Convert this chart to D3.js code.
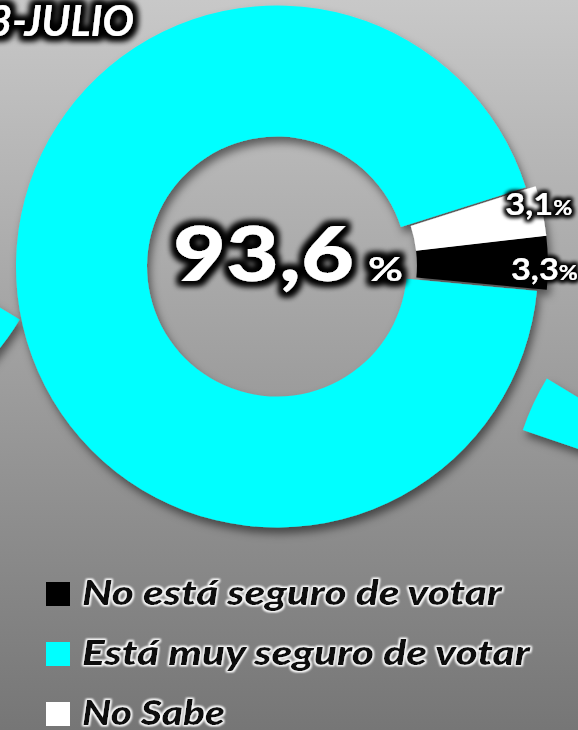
<!DOCTYPE html>
<html>
<head>
<meta charset="utf-8">
<script src="https://cdn.jsdelivr.net/npm/d3@7/dist/d3.min.js"></script>
<style>
  html, body { margin: 0; padding: 0; background: #999; }
  svg { display: block; }
</style>
</head>
<body>
<div id="chart"></div>
<script>
// ---- data ----
const categories = ["No está seguro de votar", "Está muy seguro de votar", "No Sabe"];
const values = [3.3, 93.6, 3.1];
const colors = ["#000000", "#00ffff", "#ffffff"];
const valueLabels = ["3,3", "93,6", "3,1"];
const title = "3-JULIO";
const exploded = [true, false, true];

// fragments of neighbouring charts (cropped at the image edges)
const neighbourAngles = [[121, 200], [288.75, 301.25]];

// ---- layout ----
const W = 578, H = 730;
const cx = 277, cy = 266.5;
const rOuter = 261, rInner = 130;
const explodeDist = 10;
const startDeg = 83.5;
const rad = d => d * Math.PI / 180;
const FONT = "Lato, 'Open Sans', sans-serif";

const svg = d3.select("#chart").append("svg")
  .attr("width", W).attr("height", H);

const defs = svg.append("defs");
const grad = defs.append("linearGradient").attr("id", "bg")
  .attr("x1", 0).attr("y1", 0).attr("x2", 0).attr("y2", 1);
grad.append("stop").attr("offset", "0%").attr("stop-color", "#c8c8c8");
grad.append("stop").attr("offset", "100%").attr("stop-color", "#767676");

const shadow = defs.append("filter").attr("id", "shadow")
  .attr("x", "-20%").attr("y", "-20%").attr("width", "140%").attr("height", "140%");
shadow.append("feDropShadow").attr("dx", 3).attr("dy", 6)
  .attr("stdDeviation", 4).attr("flood-color", "#000").attr("flood-opacity", 0.5);

function glow(id, color, dilate, blur, opacity) {
  const f = defs.append("filter").attr("id", id)
    .attr("x", "-20%").attr("y", "-40%").attr("width", "140%").attr("height", "180%");
  f.append("feMorphology").attr("in", "SourceAlpha").attr("operator", "dilate")
    .attr("radius", dilate).attr("result", "d");
  f.append("feGaussianBlur").attr("in", "d").attr("stdDeviation", blur).attr("result", "b");
  f.append("feFlood").attr("flood-color", color).attr("flood-opacity", opacity).attr("result", "c");
  f.append("feComposite").attr("in", "c").attr("in2", "b").attr("operator", "in").attr("result", "g");
  const m = f.append("feMerge");
  m.append("feMergeNode").attr("in", "g");
  m.append("feMergeNode").attr("in", "g");
  m.append("feMergeNode").attr("in", "SourceGraphic");
}
glow("blackGlow", "#000", 3.5, 3, 1);
glow("blackGlowSmall", "#000", 2.2, 2, 1);
glow("whiteGlow", "#fff", 1.2, 1, 0.95);

svg.append("rect").attr("width", W).attr("height", H).attr("fill", "url(#bg)");

const arc = d3.arc().innerRadius(rInner).outerRadius(rOuter);

// neighbour fragments
const frag = svg.append("g").attr("filter", "url(#shadow)");
const neighbourCentres = [[-204, 185], [770, 514]];
neighbourAngles.forEach((a, i) => {
  frag.append("path")
    .attr("transform", `translate(${neighbourCentres[i][0]},${neighbourCentres[i][1]})`)
    .attr("d", arc({startAngle: rad(a[0]), endAngle: rad(a[1])}))
    .attr("fill", "#00ffff");
});

// main donut
const pie = d3.pie().sort(null).value(d => d)
  .startAngle(rad(startDeg)).endAngle(rad(startDeg + 360));
const arcs = pie(values);

// common explode direction for the exploded slices (mean of their unit vectors)
let sx = 0, sy = 0;
arcs.forEach((d, i) => {
  if (!exploded[i]) return;
  const m = (d.startAngle + d.endAngle) / 2;
  sx += Math.sin(m); sy += -Math.cos(m);
});
const len = Math.hypot(sx, sy);
const ex = explodeDist * sx / len, ey = explodeDist * sy / len;

const g = svg.append("g").attr("filter", "url(#shadow)")
  .attr("transform", `translate(${cx},${cy})`);
g.selectAll("path").data(arcs).join("path")
  .attr("d", arc)
  .attr("fill", (d, i) => colors[i])
  .attr("transform", (d, i) => exploded[i] ? `translate(${ex},${ey})` : null);

// slice labels
const labelR = 258;
const labelDy = [17, 0, 4];
const lab = svg.append("g").attr("transform", `translate(${cx + ex},${cy + ey})`);
arcs.forEach((d, i) => {
  if (!exploded[i]) return;
  const m = (d.startAngle + d.endAngle) / 2;
  const t = lab.append("text")
    .attr("x", labelR * Math.sin(m) - 34)
    .attr("y", -labelR * Math.cos(m) + labelDy[i])
    .attr("font-family", FONT)
    .attr("font-weight", "bold")
    .attr("fill", "#fff")
    .attr("textLength", 67)
    .attr("lengthAdjust", "spacingAndGlyphs")
    .attr("filter", "url(#blackGlowSmall)");
  t.append("tspan").attr("font-size", 31).text(valueLabels[i]);
  t.append("tspan").attr("font-size", 21).text("%");
});

// centre label
const cl = svg.append("g").attr("filter", "url(#blackGlow)");
cl.append("text")
  .attr("x", cx - 104).attr("y", cy + 14)
  .attr("font-family", FONT).attr("font-weight", 900)
  .attr("font-size", 77).attr("fill", "#fff")
  .attr("textLength", 181).attr("lengthAdjust", "spacingAndGlyphs")
  .text(valueLabels[1]);
cl.append("text")
  .attr("x", cx + 91).attr("y", cy + 14)
  .attr("font-family", FONT).attr("font-weight", "bold")
  .attr("font-size", 33).attr("fill", "#fff")
  .attr("textLength", 35).attr("lengthAdjust", "spacingAndGlyphs")
  .text("%");

// title (its first character is cut by the left edge, as in the source)
svg.append("text")
  .attr("x", -12).attr("y", 36)
  .attr("font-family", FONT)
  .attr("font-weight", "bold").attr("font-style", "italic")
  .attr("font-size", 42)
  .attr("fill", "#fff")
  .attr("textLength", 146).attr("lengthAdjust", "spacingAndGlyphs")
  .attr("filter", "url(#blackGlow)")
  .text(title);

// legend
const legendWidths = [420, 448, 143];
const legend = svg.append("g");
const legY = d3.scalePoint().domain(d3.range(categories.length)).range([594, 714]);
categories.forEach((c, i) => {
  const y = legY(i);
  legend.append("rect")
    .attr("x", 46).attr("y", y - 12).attr("width", 24).attr("height", 24)
    .attr("fill", colors[i]);
  legend.append("text")
    .attr("x", 82).attr("y", y + 11)
    .attr("font-family", FONT)
    .attr("font-weight", 900).attr("font-style", "italic")
    .attr("font-size", 35)
    .attr("fill", "#0a0a0a")
    .attr("textLength", legendWidths[i]).attr("lengthAdjust", "spacingAndGlyphs")
    .attr("filter", "url(#whiteGlow)")
    .text(c);
});
</script>
</body>
</html>
